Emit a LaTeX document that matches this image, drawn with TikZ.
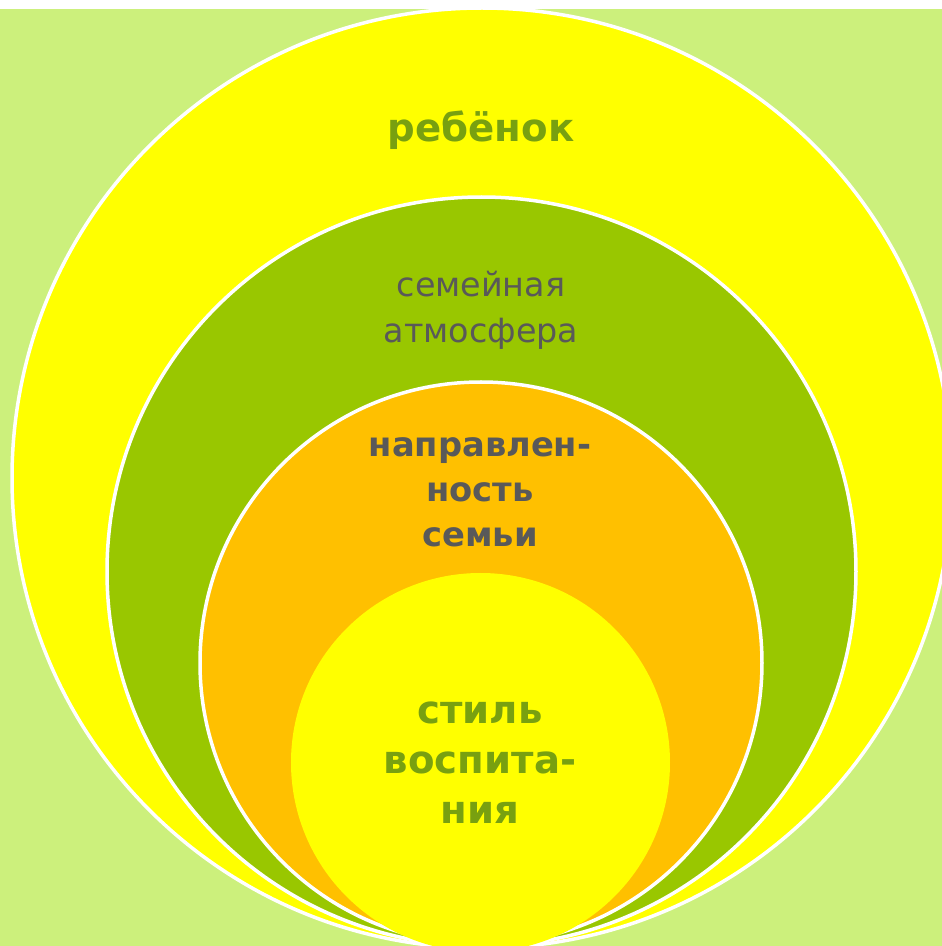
\documentclass[tikz,border=0pt]{standalone}
\usepackage{fontspec}
\setmainfont{DejaVu Sans}
\definecolor{meadow}{RGB}{204,240,124}
\definecolor{sunny}{RGB}{255,255,0}
\definecolor{leafgreen}{RGB}{153,199,0}
\definecolor{amber}{RGB}{255,192,0}
\definecolor{olivetext}{RGB}{120,160,16}
\definecolor{graytext}{RGB}{89,89,89}

\begin{document}
\begin{tikzpicture}[%
        line width = 0.035cm,
        ringline/.style = {%
            draw = white,
            line width = 0.035cm
        },
        boldlabel/.style = {%
            font = \bfseries\fontsize{11}{12.8}\selectfont,
            align = center,
            inner sep = 0pt
        },
        plainlabel/.style = {%
            font = \fontsize{9.5}{13.1}\selectfont,
            align = center,
            inner sep = 0pt,
            text = graytext
        }
    ]
        \useasboundingbox (0.0, 0.0) rectangle (9.42, 9.46);
        \fill[white] (0.0, 0.0) rectangle (9.42, 9.46);
        \fill[meadow] (0.0, 0.0) rectangle (9.42, 9.37);
        \begin{scope}
            \clip (0.0, 0.0) rectangle (9.42, 9.46);
            \filldraw[ringline, fill = sunny] (4.82, 4.68) circle (4.70);
            \filldraw[ringline, fill = leafgreen] (4.815, 3.745) circle (3.745);
            \filldraw[ringline, fill = amber] (4.81, 2.83) circle (2.81);
            \fill[sunny] (4.805, 1.835) circle (1.895);
        \end{scope}
        \node[boldlabel, text = olivetext] (child) at (4.81, 8.16) {ребёнок};
        \node[plainlabel] (climate) at (4.81, 6.36) {семейная\\атмосфера};
        \node[boldlabel, text = graytext, font = \bfseries\fontsize{9.6}{12.8}\selectfont]
            (focus) at (4.80, 4.54) {направлен-\\ность\\семьи};
        \node[boldlabel, text = olivetext, font = \bfseries\fontsize{11}{14.2}\selectfont]
            (upbringing) at (4.80, 1.835) {стиль\\воспита-\\ния};
    \end{tikzpicture}
\end{document}
